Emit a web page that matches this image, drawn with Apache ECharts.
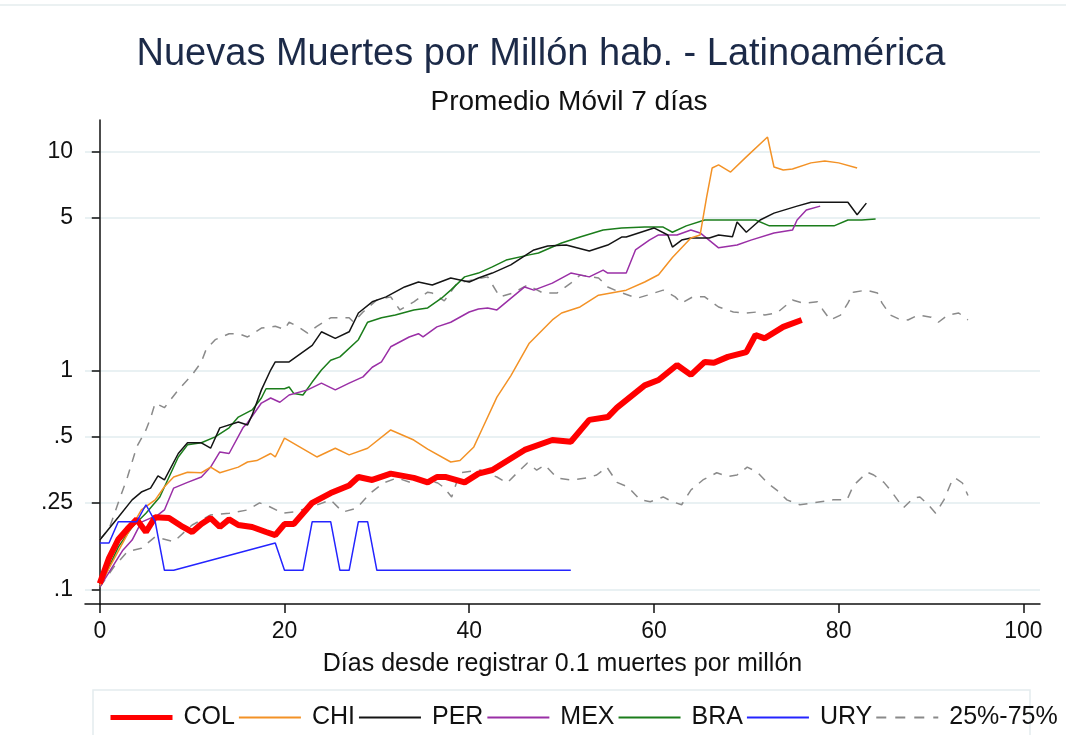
<!DOCTYPE html>
<html>
<head>
<meta charset="utf-8">
<title>Nuevas Muertes por Millón hab.</title>
<script src="https://cdn.jsdelivr.net/npm/echarts@6/dist/echarts.min.js"></script>
<style>
    html, body {margin: 0; padding: 0; background: #fff;}
    #main {width: 1066px; height: 735px;}
</style>
</head>
<body>
<div id="main"></div>
<script>
// dias desde registrar 0.1 muertes por millon, promedio movil 7 dias
var colData = [[0,0.107],[1,0.14],[2,0.17],[3,0.19],[4,0.21],[5,0.184],[6,0.215],[7.5,0.213],[9,0.194],[10,0.184],[11,0.2],[12,0.213],[13,0.194],[14,0.21],[15,0.198],[16.5,0.194],[18,0.184],[19,0.178],[20,0.2],[21,0.2],[23,0.25],[25,0.277],[27,0.3],[28,0.328],[29.5,0.318],[31.5,0.34],[34,0.325],[35.5,0.31],[36.5,0.328],[37.5,0.328],[39.5,0.31],[41,0.34],[42.5,0.353],[46,0.436],[49,0.484],[51,0.475],[53,0.598],[55,0.616],[56,0.68],[59,0.86],[60.5,0.91],[62.5,1.065],[64,0.96],[65.5,1.1],[66.5,1.09],[68,1.16],[70,1.22],[71,1.46],[72,1.41],[74,1.59],[76,1.71]];
var chiData = [[0,0.105],[3,0.18],[4.5,0.232],[6,0.258],[7,0.296],[8,0.328],[9.5,0.345],[11,0.343],[12,0.364],[13,0.343],[15,0.364],[16,0.384],[17,0.39],[18.5,0.42],[19,0.405],[20,0.494],[23.5,0.405],[25.5,0.444],[27,0.414],[29,0.444],[31.5,0.538],[34,0.484],[35.5,0.44],[38,0.384],[39,0.39],[40.5,0.45],[41.5,0.555],[43,0.76],[44.5,0.95],[46.5,1.34],[49,1.71],[50,1.84],[52,1.96],[54,2.22],[57,2.34],[59,2.55],[60.5,2.75],[62,3.3],[64,4.05],[65,4.18],[65.7,6.2],[66.3,8.45],[67,8.74],[68.3,8.1],[70,9.5],[72.3,11.7],[73,8.54],[74,8.27],[75,8.36],[77,8.92],[78.5,9.1],[80,8.92],[82,8.45]];
var perData = [[0,0.169],[2,0.215],[3.5,0.258],[4.5,0.28],[5.5,0.292],[6.3,0.332],[7,0.318],[8.5,0.42],[9.5,0.47],[11,0.47],[12,0.444],[13,0.55],[15,0.585],[16,0.567],[16.5,0.63],[17.5,0.82],[18.5,1.01],[19,1.1],[20.5,1.1],[23,1.31],[24,1.51],[25.5,1.41],[27,1.51],[28,1.84],[29.5,2.07],[31,2.18],[33,2.42],[34.5,2.55],[36,2.47],[38,2.66],[40,2.55],[41,2.66],[42.5,2.8],[44.5,3.05],[47,3.57],[48.5,3.72],[50.5,3.76],[53,3.53],[55,3.76],[56.5,4.09],[57,4.09],[60,4.5],[61.5,4.18],[62,3.68],[63,3.96],[64,4.05],[66,4.05],[67,4.18],[68.5,4.1],[69,4.79],[70,4.3],[71.5,4.89],[73,5.26],[75.5,5.66],[77,5.9],[81,5.9],[82,5.17],[83,5.84]];
var mexData = [[0,0.103],[2.5,0.152],[3.5,0.169],[4.5,0.204],[5.5,0.213],[6,0.215],[7,0.232],[8,0.292],[9.5,0.31],[11,0.328],[12,0.364],[13,0.427],[14,0.42],[15.5,0.55],[16,0.58],[17.5,0.714],[18.5,0.753],[19.5,0.72],[20.5,0.777],[22.5,0.82],[24,0.88],[25.5,0.82],[27,0.88],[28.5,0.94],[29.5,1.04],[30.5,1.1],[31.5,1.29],[33.5,1.43],[34.5,1.48],[35,1.43],[36.5,1.59],[38,1.67],[40,1.86],[41,1.92],[42,1.94],[43,1.9],[46,2.42],[47,2.34],[49,2.52],[51,2.8],[53,2.69],[54.5,2.89],[55,2.8],[57,2.8],[58,3.57],[59.5,3.96],[60.5,4.18],[62.5,4.18],[64,4.4],[65,4.27],[67,3.65],[69,3.76],[70.5,3.96],[73,4.27],[75,4.4],[75.5,4.89],[76.5,5.43],[78,5.66]];
var braData = [[0,0.103],[2,0.157],[3.5,0.194],[5,0.224],[6.5,0.266],[7.5,0.328],[8.5,0.405],[9.5,0.46],[11,0.47],[12.5,0.5],[14,0.55],[15,0.616],[16.5,0.664],[17.5,0.753],[18,0.83],[20,0.83],[20.5,0.845],[21,0.79],[22,0.777],[23,0.89],[24,1.01],[25,1.12],[26,1.16],[28,1.39],[29,1.67],[30.5,1.75],[32,1.8],[34,1.9],[35.5,1.94],[37,2.15],[38,2.34],[39.5,2.69],[41,2.8],[42.5,2.99],[44,3.21],[46.5,3.39],[47.5,3.46],[50,3.84],[52,4.09],[54.5,4.4],[56.5,4.5],[59,4.54],[61,4.54],[62,4.3],[63.5,4.6],[65.5,4.89],[71,4.89],[72.5,4.6],[79.5,4.6],[81,4.89],[82.5,4.89],[84,4.94]];
var uryData = [[0,0.164],[1,0.164],[2,0.205],[4,0.205],[5,0.245],[6,0.205],[7,0.123],[8,0.123],[19,0.164],[20,0.123],[22,0.123],[23,0.205],[25,0.205],[26,0.123],[27,0.123],[28,0.205],[29,0.205],[30,0.123],[51,0.123]];
var p75Data = [[0,0.17],[1,0.19],[2,0.25],[3,0.328],[4,0.45],[5,0.538],[5.5,0.61],[6,0.714],[7,0.68],[8.5,0.82],[10,0.96],[11,1.1],[11.5,1.25],[12.5,1.39],[14,1.48],[15,1.48],[16,1.43],[17.5,1.57],[19,1.6],[20,1.55],[20.5,1.67],[21.5,1.59],[22.5,1.49],[23.5,1.6],[25,1.75],[27,1.75],[27.5,1.67],[28.5,1.86],[30,2.11],[31.5,2.18],[32.5,1.9],[34,2.07],[35.5,2.29],[36,2.27],[37.3,2.09],[38.7,2.52],[42,2.69],[43.3,2.18],[44.7,2.27],[46.3,2.47],[48,2.27],[49.5,2.27],[51,2.52],[52,2.74],[54,2.66],[55,2.42],[56.3,2.29],[58.2,2.15],[59.3,2.22],[61,2.34],[62.3,2.18],[63,2.04],[64.2,2.18],[65.5,2.18],[67,1.96],[68.6,1.86],[70,1.84],[71.2,1.86],[72,1.8],[73.3,1.84],[75,2.11],[76.2,2.04],[77.7,2.07],[78.3,1.9],[79.1,1.71],[80.2,1.8],[81,2.04],[81.6,2.29],[83,2.34],[84.2,2.27],[84.7,2.04],[85.6,1.8],[86.5,1.73],[87.5,1.71],[88.6,1.8],[90,1.76],[90.8,1.67],[91.8,1.8],[93,1.84],[94,1.71]];
var p25Data = [[0,0.103],[1.5,0.127],[3,0.15],[4.5,0.155],[6,0.175],[8,0.166],[10,0.198],[12,0.22],[14,0.224],[16,0.232],[17.3,0.25],[18.4,0.24],[19.8,0.224],[21,0.227],[23,0.24],[25,0.258],[26.3,0.227],[27.8,0.236],[29.3,0.277],[30.7,0.308],[32.2,0.325],[33.6,0.31],[35.4,0.318],[36.6,0.308],[37.2,0.295],[38.1,0.266],[39,0.343],[41.2,0.353],[43,0.328],[44.1,0.308],[45.2,0.343],[46.3,0.38],[47.3,0.353],[48.2,0.372],[49.5,0.325],[51,0.318],[52.8,0.325],[53.8,0.335],[54.9,0.364],[56,0.31],[57.2,0.295],[58.5,0.258],[59.6,0.253],[61,0.266],[62,0.253],[63,0.245],[64,0.286],[65.3,0.318],[66.8,0.343],[68,0.33],[69,0.335],[70.1,0.364],[71.2,0.345],[72.3,0.308],[73.3,0.286],[74.4,0.258],[75.8,0.245],[77.2,0.25],[79.4,0.258],[80.9,0.258],[81.6,0.3],[83.1,0.345],[83.8,0.335],[84.9,0.31],[85.6,0.286],[87,0.237],[88.1,0.263],[88.8,0.266],[89.7,0.245],[90.5,0.224],[91.4,0.258],[92.3,0.318],[92.6,0.325],[93.4,0.308],[94,0.27]];

var xTicks = [0, 20, 40, 60, 80, 100];
var yTicks = [0.1, 0.25, 0.5, 1, 5, 10];
var yTickLabels = ['.1', '.25', '.5', '1', '5', '10'];
var legendNames = ['COL', 'CHI', 'PER', 'MEX', 'BRA', 'URY', '25%-75%'];

var FONT = 'Liberation Sans, Arial, sans-serif';

function lineSeries(name, data, color, width, dash, z) {
    return {
        name: name,
        type: 'line',
        data: data,
        symbol: 'none',
        showSymbol: false,
        animation: false,
        z: z,
        lineStyle: {color: color, width: width, type: dash || 'solid'},
        itemStyle: {color: color}
    };
}

function legendItems() {
    var items = [];
    for (var i = 0; i < legendNames.length; i++) {
        var item = {name: legendNames[i]};
        if (legendNames[i] === 'COL') {
            item.lineStyle = {width: 5};
        } else if (legendNames[i] === '25%-75%') {
            item.lineStyle = {type: [10, 9]};
        }
        items.push(item);
    }
    return items;
}

var chart = echarts.init(document.getElementById('main'));
var option = {
    backgroundColor: '#fff',
    animation: false,
    title: [
        {text: 'Nuevas Muertes por Millón hab. - Latinoamérica', left: 536, top: 31, textAlign: 'center',
            textStyle: {fontFamily: FONT, fontSize: 38, fontWeight: 'normal', color: '#1c2a48'}},
        {text: 'Promedio Móvil 7 días', left: 564, top: 83, textAlign: 'center',
            textStyle: {fontFamily: FONT, fontSize: 28, fontWeight: 'normal', color: '#111'}}
    ],
    grid: {left: 85, right: 26, top: 120, bottom: 131},
    xAxis: {
        type: 'value',
        min: -1.6,
        max: 101.8,
        name: 'Días desde registrar 0.1 muertes por millón',
        nameLocation: 'middle',
        nameGap: 48,
        nameTextStyle: {fontFamily: FONT, fontSize: 25, color: '#111'},
        axisLine: {show: true, onZero: false, lineStyle: {color: '#111', width: 1.5}},
        axisTick: {show: true, length: 9, customValues: xTicks, lineStyle: {color: '#111', width: 1.5}},
        axisLabel: {customValues: xTicks, margin: 16, fontFamily: FONT, fontSize: 23, color: '#111'},
        splitLine: {show: false}
    },
    yAxis: {
        type: 'log',
        logBase: 10,
        min: 0.0863,
        max: 14,
        axisLine: {show: true, lineStyle: {color: '#111', width: 1.5}},
        axisTick: {show: true, length: 8, customValues: yTicks, lineStyle: {color: '#111', width: 1.5}},
        axisLabel: {
            customValues: yTicks, margin: 12, fontFamily: FONT, fontSize: 23, color: '#111',
            formatter: function (v) {
                for (var i = 0; i < yTicks.length; i++) {
                    if (Math.abs(yTicks[i] - v) < 1e-6) return yTickLabels[i];
                }
                return '';
            }
        },
        splitLine: {show: true, lineStyle: {color: '#e9f1f3', width: 2}}
    },
    legend: {
        data: legendItems(),
        left: 103,
        top: 700,
        itemWidth: 62,
        itemHeight: 14,
        itemGap: 3,
        selectedMode: false,
        itemStyle: {color: 'rgba(0,0,0,0)', borderWidth: 0, opacity: 0},
        textStyle: {fontFamily: FONT, fontSize: 25, color: '#111', padding: [0, 0, 0, 6]}
    },
    graphic: [
        {type: 'rect', shape: {x: 93, y: 690, width: 937, height: 70},
            style: {fill: 'none', stroke: '#e4ecee', lineWidth: 1.5}, silent: true},
        {type: 'line', shape: {x1: 0, y1: 5, x2: 1066, y2: 5},
            style: {stroke: '#e4ecee', lineWidth: 1.5}, silent: true}
    ],
    series: [
        lineSeries('25%-75%', p75Data, '#8a8a8a', 1.5, [9, 8], 1),
        lineSeries('25%-75%', p25Data, '#8a8a8a', 1.5, [9, 8], 1),
        lineSeries('BRA', braData, '#1b7d1b', 1.5, null, 2),
        lineSeries('MEX', mexData, '#9a2fa6', 1.5, null, 2),
        lineSeries('PER', perData, '#141414', 1.5, null, 2),
        lineSeries('CHI', chiData, '#f39226', 1.5, null, 2),
        lineSeries('COL', colData, '#ff0000', 6, null, 3),
        lineSeries('URY', uryData, '#2424ff', 1.5, null, 4)
    ]
};
chart.setOption(option);
window.onresize = chart.resize;
</script>
</body>
</html>
